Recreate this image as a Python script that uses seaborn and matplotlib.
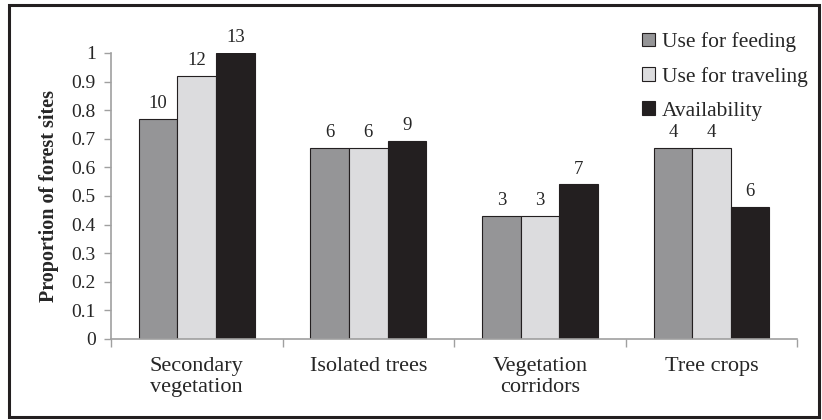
import numpy as np
import pandas as pd
import matplotlib
matplotlib.use('Agg')
import matplotlib.pyplot as plt
from matplotlib.patches import Patch, Rectangle
import seaborn as sns

# data
habitats = ['Secondary\nvegetation', 'Isolated trees', 'Vegetation\ncorridors', 'Tree crops']
series = ['Use for feeding', 'Use for traveling', 'Availability']
feeding = [0.77, 0.667, 0.43, 0.667]
traveling = [0.92, 0.667, 0.43, 0.667]
availability = [1.0, 0.692, 0.54, 0.46]
n_feeding = [10, 6, 3, 4]
n_traveling = [12, 6, 3, 4]
n_availability = [13, 9, 7, 6]
colors = ['#959597', '#dcdcde', '#231f20']

df = pd.DataFrame({
    'habitat': habitats * 3,
    'series': np.repeat(series, len(habitats)),
    'prop': feeding + traveling + availability,
})
counts = [n_feeding, n_traveling, n_availability]

sns.set_style('white')
plt.rcParams['font.family'] = ['Liberation Serif', 'DejaVu Serif']

fig = plt.figure(figsize=(8.22, 4.2), dpi=100)
ax = fig.add_axes([0.135, 0.193, 0.835, 0.681])

sns.barplot(data=df, x='habitat', y='prop', hue='series', hue_order=series,
            palette=colors, width=0.675, edgecolor='#231f20', linewidth=0.8,
            saturation=1, legend=False, ax=ax)

for cont, n in zip(ax.containers, counts):
    ax.bar_label(cont, labels=[str(v) for v in n], padding=5, fontsize=13.5)

ax.set_ylim(0, 1)
ax.set_xlim(-0.5, 3.5)
ax.set_yticks(np.arange(0, 1.01, 0.1))
ax.set_yticklabels(['0'] + ['%.1f' % v for v in np.arange(0.1, 0.95, 0.1)] + ['1'], fontsize=14)

# category boundaries as ticks, labels at centres
ax.set_xticks(np.arange(-0.5, 3.6, 1.0))
ax.set_xticklabels([])
ax.set_xticks(np.arange(4), minor=True)
ax.set_xticklabels(habitats, minor=True, fontsize=16, linespacing=1.15)
ax.tick_params(axis='x', which='minor', length=0, pad=13)
ax.tick_params(axis='x', which='major', length=6, width=1, color='#a0a0a0', direction='out', bottom=True)
ax.tick_params(axis='y', length=5, width=1, color='#a0a0a0', direction='out', left=True, pad=6)

for s in ['top', 'right']:
    ax.spines[s].set_visible(False)
for s in ['left', 'bottom']:
    ax.spines[s].set_color('#a0a0a0')
    ax.spines[s].set_linewidth(1.2)

ax.set_xlabel('')
ax.set_ylabel('Proportion of forest sites', fontsize=14.5, fontweight='bold', labelpad=9)

handles = [Patch(facecolor=c, edgecolor='#231f20', linewidth=0.8) for c in colors]
ax.legend(handles, series, loc='upper left', bbox_to_anchor=(0.745, 1.14), frameon=False,
          fontsize=15.5, handlelength=0.6, handleheight=0.6, handletextpad=0.35, labelspacing=0.68)

fig.patches.append(Rectangle((0.011, 0.006), 0.985, 0.982, transform=fig.transFigure,
                             fill=False, edgecolor='#231f20', linewidth=2.2))

fig.savefig('out.png', dpi=100)
